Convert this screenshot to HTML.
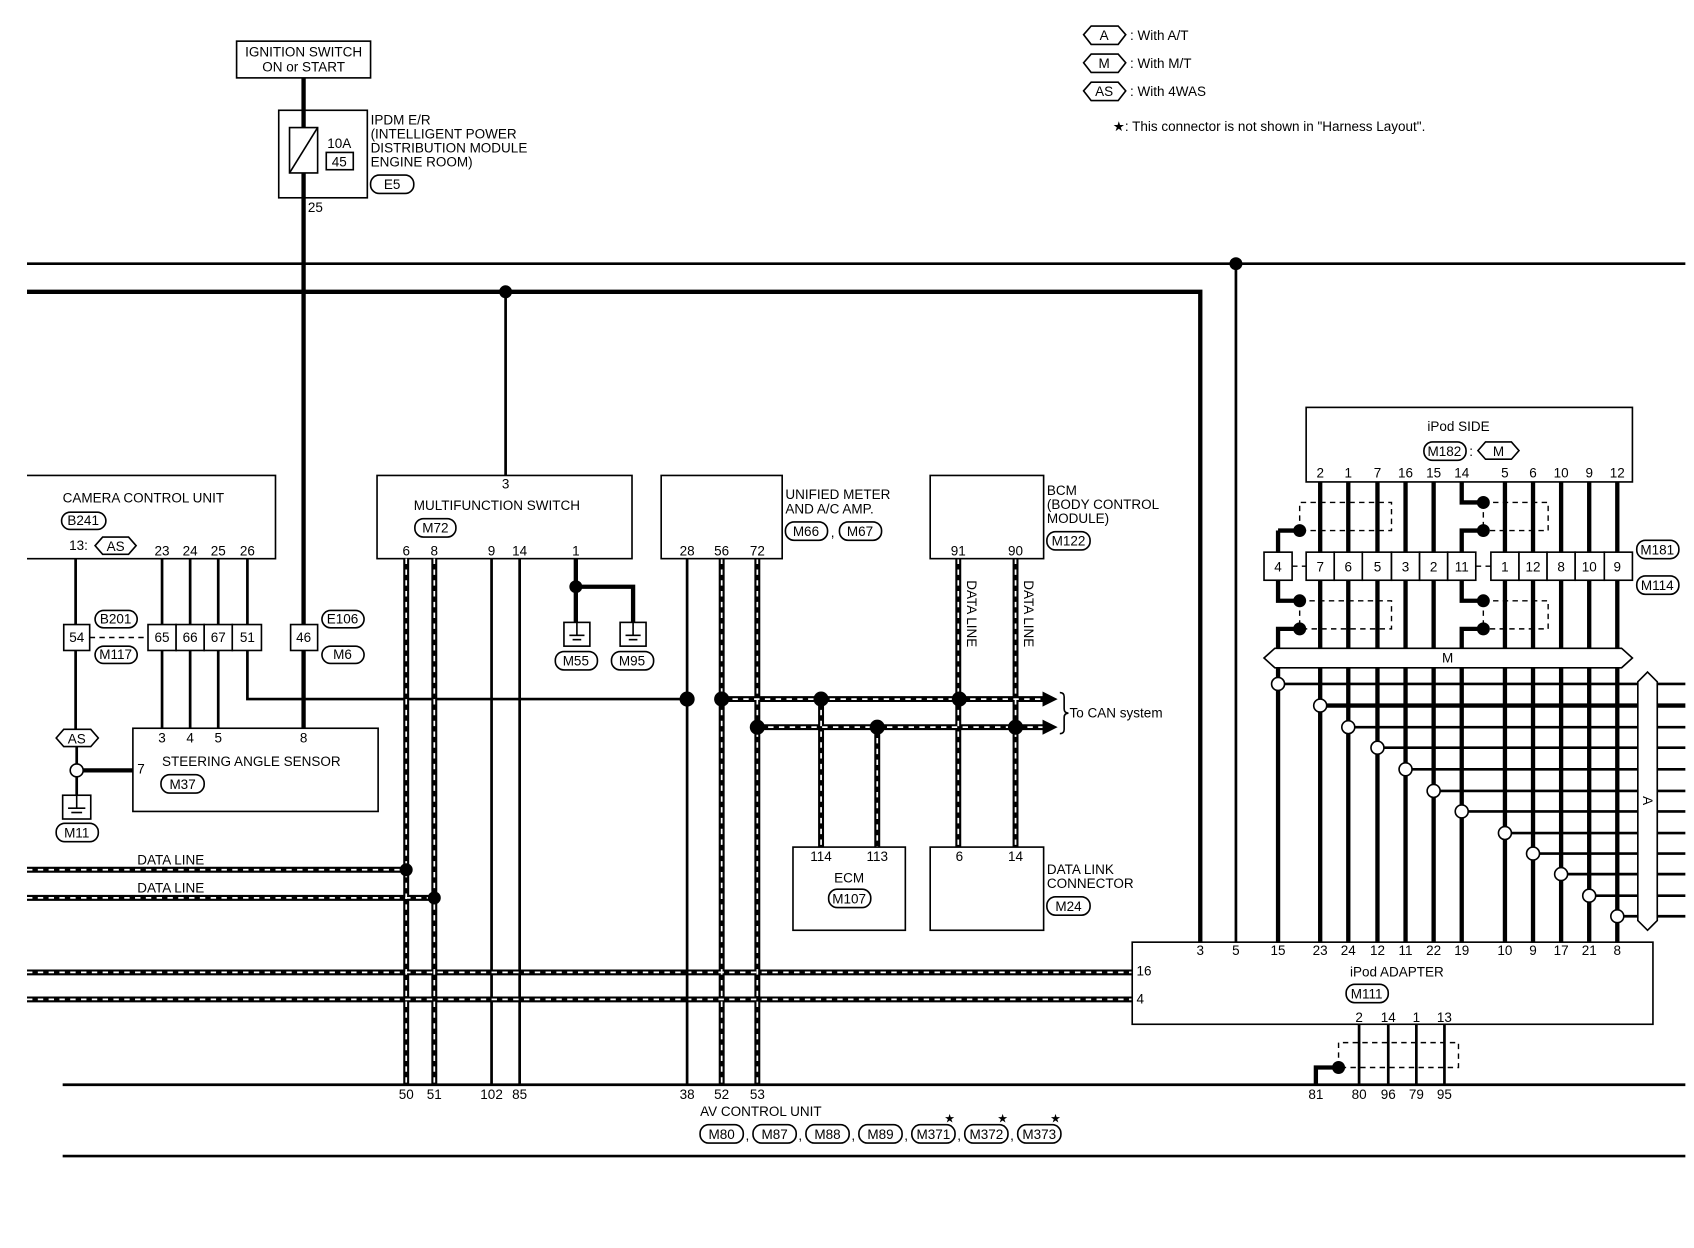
<!DOCTYPE html>
<html><head><meta charset="utf-8"><style>
html,body{margin:0;padding:0;background:#fff}
svg{display:block}
text{font-family:"Liberation Sans",sans-serif;font-size:12.5px;fill:#000}
.b{fill:none;stroke:#000;stroke-width:1.5}
rect.b[fill="#fff"]{fill:#fff}
.w{stroke:#000;stroke-width:2.5;fill:none}
.t{stroke:#000;stroke-width:4;fill:none}
.dk{stroke:#000;stroke-width:5.5;fill:none}
.dw{stroke:#fff;stroke-width:1.6;stroke-dasharray:5 5;fill:none}
.ov{fill:#fff;stroke:#000;stroke-width:1.5}
.ds{fill:none;stroke:#000;stroke-width:1.3;stroke-dasharray:5 4}
.c{text-anchor:middle}
</style></head><body>
<svg width="1694" height="1248" viewBox="0 0 1568 1155" xmlns="http://www.w3.org/2000/svg">
<rect width="1568" height="1155" fill="#fff"/>

<!-- legend -->
<polygon class="ov" points="1003,32 1010,24 1035,24 1042,32 1035,41 1010,41"/><text x="1022" y="37" class="c">A</text><text x="1046" y="37">: With A/T</text>
<polygon class="ov" points="1003,58 1010,50 1035,50 1042,58 1035,67 1010,67"/><text x="1022" y="63" class="c">M</text><text x="1046" y="63">: With M/T</text>
<polygon class="ov" points="1003,84 1010,76 1035,76 1042,84 1035,93 1010,93"/><text x="1022" y="89" class="c">AS</text><text x="1046" y="89">: With 4WAS</text>
<text x="1030" y="121">★: This connector is not shown in "Harness Layout".</text>

<!-- ignition -->
<rect class="b" x="219" y="38" width="124" height="34"/>
<text x="281" y="52" class="c">IGNITION SWITCH</text><text x="281" y="66" class="c">ON or START</text>
<line class="t" x1="281" y1="72" x2="281" y2="578"/>
<line class="t" x1="281" y1="602" x2="281" y2="674"/>
<rect class="b" x="258" y="102" width="82" height="81"/>
<rect class="b" x="268" y="118" width="26" height="42" fill="#fff"/>
<line class="b" x1="268" y1="160" x2="294" y2="118"/>
<text x="314" y="137" class="c">10A</text><rect class="b" x="302" y="141" width="25" height="16"/><text x="314" y="154" class="c">45</text>
<text x="285" y="196">25</text>
<text x="343" y="115">IPDM E/R</text><text x="343" y="128">(INTELLIGENT POWER</text><text x="343" y="141"> DISTRIBUTION MODULE</text><text x="343" y="154"> ENGINE ROOM)</text>
<rect class="ov" x="343" y="162" width="40" height="17" rx="8"/><text x="363" y="175" class="c">E5</text>

<!-- top buses -->
<line class="w" x1="25" y1="244" x2="1560" y2="244"/>
<circle cx="1144" cy="244" r="6"/>
<line class="w" x1="1144" y1="244" x2="1144" y2="872"/>
<polyline class="t" points="25,270 1111,270 1111,872"/>
<circle cx="468" cy="270" r="6"/>
<line class="w" x1="468" y1="270" x2="468" y2="440"/>

<!-- camera control unit -->
<polyline class="b" points="25,440 255,440 255,517 25,517"/>
<text x="58" y="465">CAMERA CONTROL UNIT</text>
<rect class="ov" x="57" y="474" width="41" height="16" rx="8"/><text x="77" y="486" class="c">B241</text>
<text x="64" y="509">13:</text>
<polygon class="ov" points="88,505 95,497 119,497 126,505 119,513 95,513"/><text x="107" y="510" class="c">AS</text>
<text x="150" y="514" class="c">23</text><text x="176" y="514" class="c">24</text><text x="202" y="514" class="c">25</text><text x="229" y="514" class="c">26</text>
<line class="w" x1="70" y1="517" x2="70" y2="675"/>
<line class="w" x1="150" y1="517" x2="150" y2="674"/>
<line class="w" x1="176" y1="517" x2="176" y2="674"/>
<line class="w" x1="202" y1="517" x2="202" y2="674"/>
<polyline class="w" points="229,517 229,647 636,647"/>
<rect class="b" x="59" y="578" width="24" height="24" fill="#fff"/><text x="71" y="594" class="c">54</text>
<rect class="ov" x="88" y="565" width="39" height="16" rx="8"/><text x="107" y="577" class="c">B201</text>
<rect class="ov" x="88" y="598" width="39" height="16" rx="8"/><text x="107" y="610" class="c">M117</text>
<line class="ds" x1="83" y1="590" x2="137" y2="590" stroke-dasharray="3 3"/>
<rect class="b" x="137" y="578" width="26" height="24" fill="#fff"/><text x="150" y="594" class="c">65</text>
<rect class="b" x="163" y="578" width="26" height="24" fill="#fff"/><text x="176" y="594" class="c">66</text>
<rect class="b" x="189" y="578" width="26" height="24" fill="#fff"/><text x="202" y="594" class="c">67</text>
<rect class="b" x="215" y="578" width="27" height="24" fill="#fff"/><text x="229" y="594" class="c">51</text>
<rect class="b" x="269" y="578" width="25" height="24" fill="#fff"/><text x="281" y="594" class="c">46</text>
<rect class="ov" x="298" y="565" width="39" height="16" rx="8"/><text x="317" y="577" class="c">E106</text>
<rect class="ov" x="298" y="598" width="39" height="16" rx="8"/><text x="317" y="610" class="c">M6</text>

<polygon class="ov" points="52,683 59,675 84,675 91,683 84,691 59,691"/><text x="71" y="688" class="c">AS</text>
<line class="w" x1="71" y1="691" x2="71" y2="736"/>
<line class="t" x1="71" y1="713" x2="123" y2="713"/>
<circle cx="71" cy="713" r="6" fill="#fff" stroke="#000" stroke-width="1.5"/>
<rect class="b" x="58" y="736" width="26" height="22"/>
<line class="b" x1="71" y1="736" x2="71" y2="748"/><line class="b" x1="63" y1="748" x2="79" y2="748"/><line class="b" x1="66" y1="752" x2="76" y2="752"/>
<rect class="ov" x="52" y="762" width="39" height="17" rx="8"/><text x="71" y="775" class="c">M11</text>

<rect class="b" x="123" y="674" width="227" height="77"/>
<text x="150" y="687" class="c">3</text><text x="176" y="687" class="c">4</text><text x="202" y="687" class="c">5</text><text x="281" y="687" class="c">8</text>
<text x="127" y="716">7</text>
<text x="150" y="709">STEERING ANGLE SENSOR</text>
<rect class="ov" x="149" y="717" width="40" height="17" rx="8"/><text x="169" y="730" class="c">M37</text>

<!-- multifunction switch -->
<rect class="b" x="349" y="440" width="236" height="77"/>
<text x="468" y="452" class="c">3</text>
<text x="383" y="472">MULTIFUNCTION SWITCH</text>
<rect class="ov" x="384" y="480" width="38" height="17" rx="8"/><text x="403" y="493" class="c">M72</text>
<text x="376" y="514" class="c">6</text><text x="402" y="514" class="c">8</text><text x="455" y="514" class="c">9</text><text x="481" y="514" class="c">14</text><text x="533" y="514" class="c">1</text>
<line class="w" x1="455" y1="517" x2="455" y2="1004"/>
<line class="w" x1="481" y1="517" x2="481" y2="1004"/>
<polyline class="t" points="533,517 533,576"/>
<polyline class="t" points="533,543 586,543 586,576"/>
<circle cx="533" cy="543" r="6"/>
<rect class="b" x="522" y="576" width="24" height="22" fill="#fff"/>
<line class="b" x1="534" y1="576" x2="534" y2="588"/><line class="b" x1="527" y1="588" x2="541" y2="588"/><line class="b" x1="530" y1="592" x2="538" y2="592"/>
<rect class="b" x="574" y="576" width="24" height="22" fill="#fff"/>
<line class="b" x1="586" y1="576" x2="586" y2="588"/><line class="b" x1="579" y1="588" x2="593" y2="588"/><line class="b" x1="582" y1="592" x2="590" y2="592"/>
<rect class="ov" x="514" y="603" width="39" height="17" rx="8"/><text x="533" y="616" class="c">M55</text>
<rect class="ov" x="566" y="603" width="39" height="17" rx="8"/><text x="585" y="616" class="c">M95</text>

<!-- data lines left -->
<text x="127" y="800">DATA LINE</text><text x="127" y="826">DATA LINE</text>
<g>
<path class="dk" d="M25,805H376M25,831H402M25,900H1048M25,925H1048M376,517V1004M402,517V1004M668,517V1004M701,517V1004M668,647H968M701,673H968M760,647V784M812,673V784M887,517V784M940,517V784"/>
<path class="dw" d="M25,805H376M25,831H402M25,900H1048M25,925H1048M376,517V1004M402,517V1004M668,517V1004M701,517V1004M668,647H968M701,673H968M760,647V784M812,673V784M887,517V784M940,517V784"/>
</g>
<circle cx="376" cy="805" r="6"/><circle cx="402" cy="831" r="6"/>

<!-- unified meter -->
<rect class="b" x="612" y="440" width="112" height="77"/>
<text x="727" y="462">UNIFIED METER</text><text x="727" y="475">AND A/C AMP.</text>
<rect class="ov" x="727" y="483" width="39" height="17" rx="8"/><text x="746" y="496" class="c">M66</text><text x="769" y="497">,</text>
<rect class="ov" x="777" y="483" width="39" height="17" rx="8"/><text x="796" y="496" class="c">M67</text>
<text x="636" y="514" class="c">28</text><text x="668" y="514" class="c">56</text><text x="701" y="514" class="c">72</text>
<line class="w" x1="636" y1="517" x2="636" y2="1004"/>
<circle cx="636" cy="647" r="7"/><circle cx="668" cy="647" r="7"/><circle cx="701" cy="673" r="7"/>
<circle cx="760" cy="647" r="7"/><circle cx="812" cy="673" r="7"/><circle cx="888" cy="647" r="7"/><circle cx="940" cy="673" r="7"/>
<polygon points="965,640 979,647 965,654"/><polygon points="965,666 979,673 965,680"/>
<path class="b" d="M981,641 q4,0 4,4 v11 q0,4 4,4 q-4,0 -4,4 v11 q0,4 -4,4" stroke-width="1.2"/>
<text x="990" y="664">To CAN system</text>

<!-- ECM -->
<rect class="b" x="734" y="784" width="104" height="77"/>
<text x="760" y="797" class="c">114</text><text x="812" y="797" class="c">113</text>
<text x="786" y="817" class="c">ECM</text>
<rect class="ov" x="767" y="823" width="39" height="17" rx="8"/><text x="786" y="836" class="c">M107</text>

<!-- BCM -->
<rect class="b" x="861" y="440" width="105" height="77"/>
<text x="969" y="458">BCM</text><text x="969" y="471">(BODY CONTROL</text><text x="969" y="484"> MODULE)</text>
<rect class="ov" x="969" y="492" width="40" height="17" rx="8"/><text x="989" y="505" class="c">M122</text>
<text x="887" y="514" class="c">91</text><text x="940" y="514" class="c">90</text>
<text transform="translate(895,537) rotate(90)">DATA LINE</text>
<text transform="translate(948,537) rotate(90)">DATA LINE</text>

<!-- DLC -->
<rect class="b" x="861" y="784" width="105" height="77"/>
<text x="888" y="797" class="c">6</text><text x="940" y="797" class="c">14</text>
<text x="969" y="809">DATA LINK</text><text x="969" y="822">CONNECTOR</text>
<rect class="ov" x="969" y="830" width="40" height="17" rx="8"/><text x="989" y="843" class="c">M24</text>

<!-- AV control unit -->
<line class="w" x1="58" y1="1004" x2="1560" y2="1004"/>
<line class="w" x1="58" y1="1070" x2="1560" y2="1070"/>
<g class="c">
<text x="376" y="1017" class="c">50</text><text x="402" y="1017" class="c">51</text><text x="455" y="1017" class="c">102</text><text x="481" y="1017" class="c">85</text>
<text x="636" y="1017" class="c">38</text><text x="668" y="1017" class="c">52</text><text x="701" y="1017" class="c">53</text>
<text x="1218" y="1017" class="c">81</text><text x="1258" y="1017" class="c">80</text><text x="1285" y="1017" class="c">96</text><text x="1311" y="1017" class="c">79</text><text x="1337" y="1017" class="c">95</text>
</g>
<text x="648" y="1033">AV CONTROL UNIT</text>
<rect class="ov" x="648" y="1041" width="40" height="17" rx="8"/><text x="668" y="1054" class="c">M80</text><text x="690" y="1055">,</text>
<rect class="ov" x="697" y="1041" width="40" height="17" rx="8"/><text x="717" y="1054" class="c">M87</text><text x="739" y="1055">,</text>
<rect class="ov" x="746" y="1041" width="40" height="17" rx="8"/><text x="766" y="1054" class="c">M88</text><text x="788" y="1055">,</text>
<rect class="ov" x="795" y="1041" width="40" height="17" rx="8"/><text x="815" y="1054" class="c">M89</text><text x="837" y="1055">,</text>
<rect class="ov" x="844" y="1041" width="40" height="17" rx="8"/><text x="864" y="1054" class="c">M371</text><text x="886" y="1055">,</text>
<rect class="ov" x="893" y="1041" width="40" height="17" rx="8"/><text x="913" y="1054" class="c">M372</text><text x="935" y="1055">,</text>
<rect class="ov" x="942" y="1041" width="40" height="17" rx="8"/><text x="962" y="1054" class="c">M373</text>
<text x="879" y="1039" class="c" style="font-size:11px">★</text><text x="928" y="1039" class="c" style="font-size:11px">★</text><text x="977" y="1039" class="c" style="font-size:11px">★</text>

<!-- iPod adapter -->
<rect class="b" x="1048" y="872" width="482" height="76"/>
<g>
<text x="1111" y="884" class="c">3</text><text x="1144" y="884" class="c">5</text><text x="1183" y="884" class="c">15</text><text x="1222" y="884" class="c">23</text><text x="1248" y="884" class="c">24</text><text x="1275" y="884" class="c">12</text><text x="1301" y="884" class="c">11</text><text x="1327" y="884" class="c">22</text><text x="1353" y="884" class="c">19</text><text x="1393" y="884" class="c">10</text><text x="1419" y="884" class="c">9</text><text x="1445" y="884" class="c">17</text><text x="1471" y="884" class="c">21</text><text x="1497" y="884" class="c">8</text>
</g>
<text x="1052" y="903">16</text><text x="1052" y="929">4</text>
<text x="1293" y="904" class="c">iPod ADAPTER</text>
<rect class="ov" x="1246" y="911" width="39" height="17" rx="8"/><text x="1265" y="924" class="c">M111</text>
<text x="1258" y="946" class="c">2</text><text x="1285" y="946" class="c">14</text><text x="1311" y="946" class="c">1</text><text x="1337" y="946" class="c">13</text>
<line class="w" x1="1258" y1="948" x2="1258" y2="1004"/><line class="w" x1="1285" y1="948" x2="1285" y2="1004"/><line class="w" x1="1311" y1="948" x2="1311" y2="1004"/><line class="w" x1="1337" y1="948" x2="1337" y2="1004"/>
<polyline class="ds" points="1239,988 1239,965 1350,965 1350,988 1239,988"/>
<polyline class="t" points="1239,988 1218,988 1218,1004"/>
<circle cx="1239" cy="988" r="6"/>

<!-- iPod side -->
<rect class="b" x="1209" y="377" width="302" height="69"/>
<text x="1350" y="399" class="c">iPod SIDE</text>
<rect class="ov" x="1318" y="409" width="39" height="17" rx="8"/><text x="1337" y="422" class="c">M182</text><text x="1360" y="422">:</text>
<polygon class="ov" points="1368,417 1375,409 1399,409 1406,417 1399,425 1375,425"/><text x="1387" y="422" class="c">M</text>
<g>
<text x="1222" y="442" class="c">2</text><text x="1248" y="442" class="c">1</text><text x="1275" y="442" class="c">7</text><text x="1301" y="442" class="c">16</text><text x="1327" y="442" class="c">15</text><text x="1353" y="442" class="c">14</text><text x="1393" y="442" class="c">5</text><text x="1419" y="442" class="c">6</text><text x="1445" y="442" class="c">10</text><text x="1471" y="442" class="c">9</text><text x="1497" y="442" class="c">12</text>
</g>
<path class="t" d="M1222,446V872M1248,446V872M1275,446V872M1301,446V872M1327,446V872M1393,446V872M1419,446V872M1445,446V872M1471,446V872M1497,446V872"/>
<path class="t" d="M1353,446V465H1373M1373,491H1353V511M1183,491H1203M1183,491V511M1183,537V556H1203M1203,582H1183V872M1353,537V556H1373M1373,582H1353V872"/>
<path class="ds" d="M1203,491V465H1288V491H1203M1373,465H1433V491H1373M1373,465V491M1203,556H1288V582H1203M1203,556V582M1373,556H1433V582H1373M1373,556V582"/>
<circle cx="1203" cy="491" r="6"/><circle cx="1373" cy="465" r="6"/><circle cx="1373" cy="491" r="6"/>
<circle cx="1203" cy="556" r="6"/><circle cx="1203" cy="582" r="6"/><circle cx="1373" cy="556" r="6"/><circle cx="1373" cy="582" r="6"/>
<g>
<rect class="b" x="1170" y="511" width="26" height="26" fill="#fff"/>
<rect class="b" x="1209" y="511" width="26" height="26" fill="#fff"/><rect class="b" x="1235" y="511" width="26" height="26" fill="#fff"/><rect class="b" x="1261" y="511" width="27" height="26" fill="#fff"/><rect class="b" x="1288" y="511" width="26" height="26" fill="#fff"/><rect class="b" x="1314" y="511" width="26" height="26" fill="#fff"/><rect class="b" x="1340" y="511" width="26" height="26" fill="#fff"/>
<rect class="b" x="1380" y="511" width="26" height="26" fill="#fff"/><rect class="b" x="1406" y="511" width="26" height="26" fill="#fff"/><rect class="b" x="1432" y="511" width="26" height="26" fill="#fff"/><rect class="b" x="1458" y="511" width="27" height="26" fill="#fff"/><rect class="b" x="1485" y="511" width="26" height="26" fill="#fff"/>
</g>
<line x1="1196" y1="524" x2="1209" y2="524" class="ds" stroke-dasharray="3 3"/><line x1="1366" y1="524" x2="1380" y2="524" class="ds" stroke-dasharray="3 3"/>
<g>
<text x="1183" y="529" class="c">4</text><text x="1222" y="529" class="c">7</text><text x="1248" y="529" class="c">6</text><text x="1275" y="529" class="c">5</text><text x="1301" y="529" class="c">3</text><text x="1327" y="529" class="c">2</text><text x="1353" y="529" class="c">11</text>
<text x="1393" y="529" class="c">1</text><text x="1419" y="529" class="c">12</text><text x="1445" y="529" class="c">8</text><text x="1471" y="529" class="c">10</text><text x="1497" y="529" class="c">9</text>
</g>
<rect class="ov" x="1515" y="500" width="39" height="17" rx="8"/><text x="1534" y="513" class="c">M181</text>
<rect class="ov" x="1515" y="533" width="39" height="17" rx="8"/><text x="1534" y="546" class="c">M114</text>
<polygon class="ov" points="1170,609 1180,600 1501,600 1511,609 1501,618 1180,618"/>
<text x="1340" y="613" class="c">M</text>

<path class="w" d="M1183,633H1516M1248,673H1516M1275,692H1516M1301,712H1516M1327,732H1516M1353,751H1516M1393,771H1516M1419,790H1516M1445,809H1516M1471,829H1516M1497,848H1516"/>
<path class="t" d="M1222,653H1516"/>
<path class="w" d="M1534,633H1560M1534,673H1560M1534,692H1560M1534,712H1560M1534,732H1560M1534,751H1560M1534,771H1560M1534,790H1560M1534,809H1560M1534,829H1560M1534,848H1560"/>
<path class="t" d="M1534,653H1560"/>
<g fill="#fff" stroke="#000" stroke-width="1.5">
<circle cx="1183" cy="633" r="6"/><circle cx="1222" cy="653" r="6"/><circle cx="1248" cy="673" r="6"/><circle cx="1275" cy="692" r="6"/><circle cx="1301" cy="712" r="6"/><circle cx="1327" cy="732" r="6"/><circle cx="1353" cy="751" r="6"/><circle cx="1393" cy="771" r="6"/><circle cx="1419" cy="790" r="6"/><circle cx="1445" cy="809" r="6"/><circle cx="1471" cy="829" r="6"/><circle cx="1497" cy="848" r="6"/>
</g>
<polygon class="ov" points="1525,622 1534,631 1534,852 1525,861 1516,852 1516,631"/>
<text transform="translate(1521,741) rotate(90)" class="c">A</text>
</svg>
</body></html>
